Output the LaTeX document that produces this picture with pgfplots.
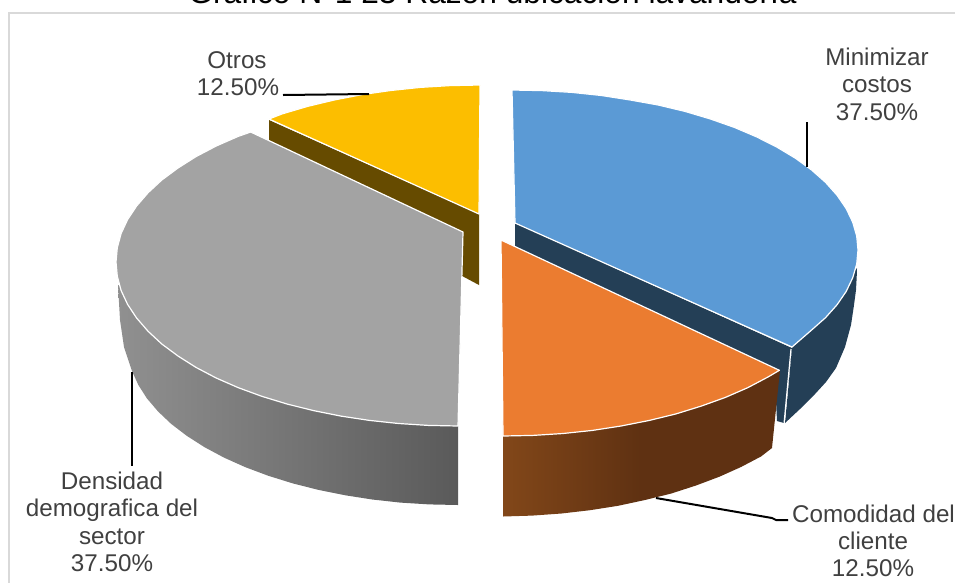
\documentclass[border=0pt]{standalone}
\usepackage{fontspec}
\setmainfont{Liberation Sans}
\usepackage{pgfplots}
\pgfplotsset{compat=1.18}
\definecolor{panelgrey}{HTML}{D9D9D9}
\definecolor{labelgrey}{HTML}{404040}
\definecolor{bluetop}{HTML}{5B9AD5}
\definecolor{blueside}{HTML}{243F56}
\definecolor{orangetop}{HTML}{EB7C30}
\definecolor{orangeA}{HTML}{824719}
\definecolor{orangeB}{HTML}{5F3112}
\definecolor{greytop}{HTML}{A3A3A3}
\definecolor{greyA}{HTML}{909090}
\definecolor{greyB}{HTML}{5A5A5A}
\definecolor{yellowtop}{HTML}{FCBE00}
\definecolor{yellowside}{HTML}{664B00}
\tikzset{
  face/.style={draw=white, line width=1.2pt, line join=round},
  leader/.style={draw=black, line width=2pt},
  lab/.style={anchor=base, text=labelgrey, inner sep=0pt, font=\fontsize{24.2}{27}\selectfont},
}
\begin{document}
\begin{tikzpicture}
\useasboundingbox (0,0) rectangle (955pt,582pt);
\clip (0,0) rectangle (955pt,582pt);
\begin{axis}[
  at={(0,0)}, anchor=south west,
  width=955pt, height=582pt, scale only axis,
  xmin=0, xmax=955, ymin=0, ymax=582, y dir=reverse,
  hide axis, clip=false, no markers,
]
% chart frame
\addplot[draw=panelgrey, line width=1.8pt] coordinates {(9,590) (9,13) (960,13)};

% Otros: wall and top
\addplot[draw=none, fill=yellowside] coordinates {(269,120) (479,214) (479,285) (464,277) (300,180) (269,141)} -- cycle;
\addplot[face, fill=yellowtop] coordinates {(479,214) (269,119) (282.1,113.9) (307.5,106.4) (334.2,100) (362,94.6) (390.7,90.5) (420.1,87.4) (449.9,85.6) (480,85)} -- cycle;

% Minimizar costos: inner wall, rim and top
\addplot[draw=none, fill=blueside] coordinates {(515,223) (792,348) (784,423) (777,421) (775,380) (515,252)} -- cycle;
\addplot[draw=none, fill=blueside] coordinates {(792,348) (857,268) (856.7,277) (856,290) (854,305) (851,325) (845,347) (836,368) (826,382) (815,394) (800,409) (785,423)} -- cycle;
\addplot[draw=white, line width=1.2pt] coordinates {(791,349) (784,424)};
\addplot[face, fill=bluetop] coordinates {(515,223) (512,90) (542.2,90.6) (572,92.4) (601.5,95.5) (630.3,100) (658.2,105) (685,111.4) (710.5,119) (734.4,127.4) (756.7,136.9) (777,147.2) (795.4,158.2) (811.6,170) (825.6,182.4) (837.1,195.3) (846.2,208.6) (852.7,222.2) (856.7,236) (858,250) (856.7,264) (852.7,277.8) (846.2,291.4) (837.1,304.7) (825.6,317.6) (811.6,330) (792,347)} -- cycle;

% Comodidad del cliente: rim and top
\addplot[draw=none, left color=orangeA, right color=orangeB, middle color=orangeB] coordinates {(503,436) (780,370) (772,448) (761,456.5) (741,467) (719.4,476.7) (696,485.5) (671.3,493.5) (645,500) (618,505.8) (590,510.2) (561.4,513.5) (532,515.6) (503,516.5)} -- cycle;
\addplot[face, fill=orangetop] coordinates {(501,240) (779.4,370.3) (768,377) (747.7,387.7) (725.4,397.4) (701.5,406) (676,413.9) (649,420.5) (621,426) (592.5,430.4) (563,433.5) (533,435.4) (503,436)} -- cycle;

% Densidad demografica del sector: rim and top
\addplot[draw=none, left color=greyA, right color=greyB] coordinates {(458,426) (118,285) (120,320) (124,347) (132,371) (138.3,384.9) (146.9,398.4) (158.1,411.5) (171.3,424) (186.9,435.9) (204.4,447.1) (224,457.6) (245.2,467.1) (268.1,475.7) (292.5,483.3) (318.1,489.8) (344.8,495.2) (372.3,499.5) (400.5,502.6) (429.1,504.4) (458,505)} -- cycle;
\addplot[draw=white, line width=0.8pt] coordinates {(459,426) (459,505)};
\addplot[face, fill=greytop] coordinates {(463,232) (250.7,132) (238.1,136.4) (216.2,146) (196,156.6) (178,168) (161.8,180) (148.1,192.7) (136.6,206) (127.6,219.6) (121.1,233.5) (117.3,247.7) (116,262) (117.3,276.3) (121.1,290.5) (127.6,304.4) (136.6,318) (148.1,331.3) (161.8,344) (178,356) (196,367.4) (216.2,378) (238.1,387.6) (261.8,396.3) (287,404) (313.5,410.6) (341,416.1) (369.5,420.4) (398.6,423.5) (428.2,425.4) (458,426)} -- cycle;

% leader lines
\addplot[leader] coordinates {(283,95) (369,94)};
\addplot[leader] coordinates {(806.5,122) (806.5,167)};
\addplot[leader] coordinates {(132,372) (132,466)};
\addplot[leader] coordinates {(656,498) (772,518) (776,520) (788,520)};

% title and data labels
\node[anchor=base, inner sep=0pt, text=black, font=\fontsize{31.7}{36}\selectfont] at (axis cs:492.5,3.5) {Gráfico N°1 23 Razón ubicación lavandería};

\node[lab] at (axis cs:237,68) {Otros};
\node[lab] at (axis cs:238,95.7) {12.50\%};

\node[lab] at (axis cs:877,65.7) {Minimizar};
\node[lab] at (axis cs:877,92.3) {costos};
\node[lab] at (axis cs:877,120) {37.50\%};

\node[lab] at (axis cs:112,489) {Densidad};
\node[lab] at (axis cs:112,516.7) {demografica del};
\node[lab] at (axis cs:112,544) {sector};
\node[lab] at (axis cs:112,571) {37.50\%};

\node[lab] at (axis cs:873.5,522) {Comodidad del};
\node[lab] at (axis cs:873,549) {cliente};
\node[lab] at (axis cs:873,576.7) {12.50\%};
\end{axis}
\end{tikzpicture}
\end{document}
